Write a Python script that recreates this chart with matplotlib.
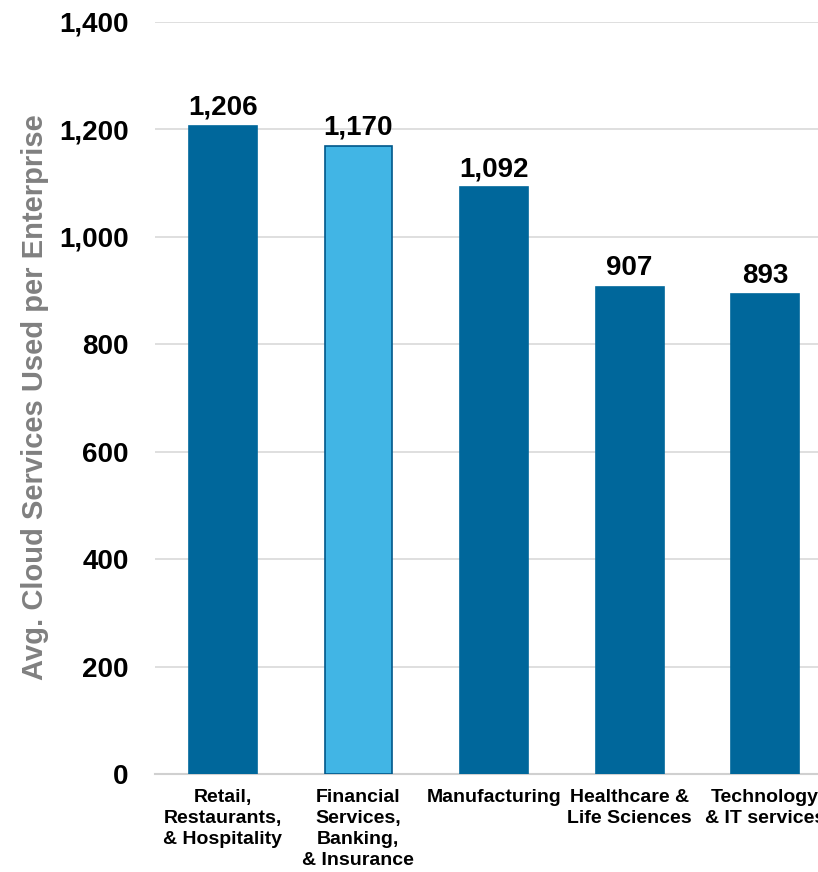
import matplotlib.pyplot as plt

# Data
categories = ['Retail,\nRestaurants,\n& Hospitality',
              'Financial\nServices,\nBanking,\n& Insurance',
              'Manufacturing',
              'Healthcare &\nLife Sciences',
              'Technology\n& IT services']
values = [1206, 1170, 1092, 907, 893]
value_labels = ['1,206', '1,170', '1,092', '907', '893']
yticks = [0, 200, 400, 600, 800, 1000, 1200, 1400]
ytick_labels = ['0', '200', '400', '600', '800', '1,000', '1,200', '1,400']

plt.rcParams['font.family'] = ['Liberation Sans', 'DejaVu Sans']

dark = '#00679b'
light = '#41b5e5'
colors = [dark, light, dark, dark, dark]
edges = [dark, '#00578a', dark, dark, dark]

fig = plt.figure(figsize=(8.18, 8.72), dpi=100)
# axes intentionally runs past the right edge (chart is cropped)
ax = fig.add_axes([155 / 818, (872 - 774) / 872, 678 / 818, 752 / 872])

x = range(len(categories))
ax.bar(x, values, width=0.5, color=colors, edgecolor=edges, linewidth=1.2, zorder=3)

for i, v in enumerate(values):
    ax.text(i, v + 10, value_labels[i], ha='center', va='bottom',
            fontsize=20, fontweight='bold', color='black', zorder=4)

ax.set_xlim(-0.5, 4.5)
ax.set_ylim(0, 1400)
ax.set_yticks(yticks)
ax.set_yticklabels(ytick_labels, fontsize=20, fontweight='bold')
ax.set_xticks(list(x))
ax.set_xticklabels(categories, fontsize=14, fontweight='bold', linespacing=1.3, va='top')

ax.tick_params(axis='y', length=0, pad=19)
ax.tick_params(axis='x', length=0, pad=11)

ax.grid(axis='y', color='#d9d9d9', linewidth=1.2, zorder=0)
for s in ['top', 'right', 'left']:
    ax.spines[s].set_visible(False)
ax.spines['bottom'].set_color('#d0d0d0')
ax.spines['bottom'].set_linewidth(1.5)

fig.text(35 / 818, 1 - 397 / 872, 'Avg. Cloud Services Used per Enterprise',
         rotation=90, ha='center', va='center', fontsize=21,
         fontweight='bold', color='#808080')

fig.savefig('out.png', dpi=100)
